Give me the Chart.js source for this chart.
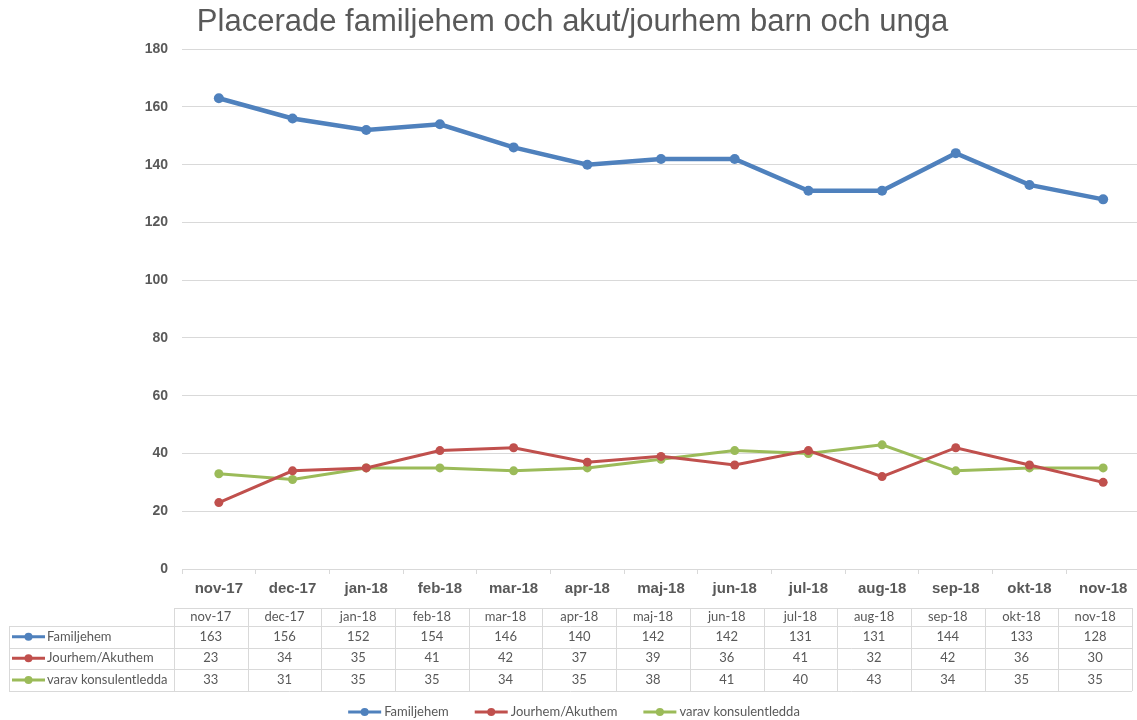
<!DOCTYPE html>
<html>
<head>
<meta charset="utf-8">
<script src="https://cdn.jsdelivr.net/npm/chart.js@4/dist/chart.umd.min.js"></script>
<style>
  body { margin: 0; background: #fff; overflow: hidden; }
  #wrap { position: relative; width: 1145px; height: 720px; }
</style>
</head>
<body>
<div id="wrap"><canvas id="myChart" width="1145" height="720"></canvas></div>
<script>
const months = ["nov-17", "dec-17", "jan-18", "feb-18", "mar-18", "apr-18", "maj-18",
  "jun-18", "jul-18", "aug-18", "sep-18", "okt-18", "nov-18"];
const familjehem = [163, 156, 152, 154, 146, 140, 142, 142, 131, 131, 144, 133, 128];
const jourhem = [23, 34, 35, 41, 42, 37, 39, 36, 41, 32, 42, 36, 30];
const konsulentledda = [33, 31, 35, 35, 34, 35, 38, 41, 40, 43, 34, 35, 35];

const seriesNames = ["Familjehem", "Jourhem/Akuthem", "varav konsulentledda"];
const seriesColors = ["#4F81BD", "#C0504D", "#9BBB59"];
const seriesData = [familjehem, jourhem, konsulentledda];

const grey = "#595959";
const gridGrey = "#d9d9d9";

// liten symbol: linje med punkt i mitten
function drawSymbol(ctx, x1, x2, y, color) {
  ctx.save();
  ctx.strokeStyle = color;
  ctx.lineWidth = 3;
  ctx.beginPath();
  ctx.moveTo(x1, y);
  ctx.lineTo(x2, y);
  ctx.stroke();
  ctx.fillStyle = color;
  ctx.beginPath();
  ctx.arc((x1 + x2) / 2, y, 4, 0, Math.PI * 2);
  ctx.fill();
  ctx.restore();
}

// datatabell + förklaring under diagrammet
const tablePlugin = {
  id: "dataTable",
  afterDraw(chart) {
    const ctx = chart.ctx;
    const x = chart.scales.x;
    const colW = x.getPixelForValue(1) - x.getPixelForValue(0);
    const shift = -8;
    const colLeft = (i) => x.getPixelForValue(i) - colW / 2 + shift;
    const tableLeft = 9;
    const rows = [608, 626, 647.5, 669, 691];
    const right = colLeft(months.length);

    ctx.save();
    ctx.strokeStyle = gridGrey;
    ctx.lineWidth = 1;
    ctx.beginPath();
    ctx.moveTo(colLeft(0), rows[0] + 0.5);
    ctx.lineTo(right, rows[0] + 0.5);
    for (let r = 1; r < rows.length; r++) {
      ctx.moveTo(tableLeft, Math.round(rows[r]) + 0.5);
      ctx.lineTo(right, Math.round(rows[r]) + 0.5);
    }
    ctx.moveTo(tableLeft + 0.5, rows[1]);
    ctx.lineTo(tableLeft + 0.5, rows[4]);
    for (let i = 0; i <= months.length; i++) {
      const cx = Math.round(colLeft(i)) + 0.5;
      ctx.moveTo(cx, rows[0]);
      ctx.lineTo(cx, rows[4]);
    }
    ctx.stroke();

    ctx.font = "13px Lato";
    ctx.fillStyle = grey;
    ctx.textAlign = "center";
    ctx.textBaseline = "middle";
    months.forEach((m, i) => {
      const cx = colLeft(i) + colW / 2;
      ctx.fillText(m, cx, (rows[0] + rows[1]) / 2);
      seriesData.forEach((d, s) => {
        ctx.fillText(String(d[i]), cx, (rows[s + 1] + rows[s + 2]) / 2);
      });
    });

    ctx.textAlign = "left";
    seriesNames.forEach((name, s) => {
      const cy = (rows[s + 1] + rows[s + 2]) / 2;
      drawSymbol(ctx, 12, 45, cy, seriesColors[s]);
      ctx.fillStyle = grey;
      ctx.fillText(name, 47, cy);
    });

    // förklaring
    const symW = 33, gap = 3, itemGap = 26;
    const widths = seriesNames.map((n) => symW + gap + ctx.measureText(n).width);
    const total = widths.reduce((a, b) => a + b, 0) + itemGap * (widths.length - 1);
    let lx = 574 - total / 2;
    const ly = 712;
    seriesNames.forEach((name, s) => {
      drawSymbol(ctx, lx, lx + symW, ly, seriesColors[s]);
      ctx.fillStyle = grey;
      ctx.fillText(name, lx + symW + gap, ly);
      lx += widths[s] + itemGap;
    });
    ctx.restore();
  },
};

const ctx = document.getElementById("myChart");
new Chart(ctx, {
  type: "line",
  data: {
    labels: months,
    datasets: seriesNames.map((name, s) => ({
      label: name,
      data: seriesData[s],
      borderColor: seriesColors[s],
      backgroundColor: seriesColors[s],
      borderWidth: s === 0 ? 4.5 : 3,
      pointRadius: s === 0 ? 5 : 4.5,
      pointBorderWidth: 0,
      tension: 0,
      fill: false,
    })),
  },
  options: {
    responsive: false,
    animation: false,
    layout: { padding: { left: 0, right: 0, top: 0, bottom: 0 } },
    plugins: {
      legend: { display: false },
      tooltip: { enabled: false },
      title: {
        display: true,
        text: "Placerade familjehem och akut/jourhem barn och unga",
        color: grey,
        font: { family: "Liberation Sans, Arial", size: 31, weight: "normal" },
        padding: { top: 4, bottom: 8 },
      },
    },
    scales: {
      x: {
        offset: true,
        grid: { display: true, drawOnChartArea: false, color: gridGrey, tickLength: 5, offset: true },
        border: { display: true, color: gridGrey },
        ticks: {
          color: grey,
          padding: 6,
          font: { family: "Liberation Sans, Arial", size: 15, weight: "bold" },
          maxRotation: 0,
        },
        afterFit(scale) { scale.height = 151; },
      },
      y: {
        min: 0,
        max: 180,
        ticks: {
          stepSize: 20,
          color: grey,
          padding: 14,
          font: { family: "Liberation Sans, Arial", size: 14, weight: "bold" },
        },
        grid: { color: gridGrey, drawTicks: false },
        border: { display: false },
        afterFit(scale) { scale.width = 182; },
      },
    },
  },
  plugins: [tablePlugin],
});
</script>
</body>
</html>
